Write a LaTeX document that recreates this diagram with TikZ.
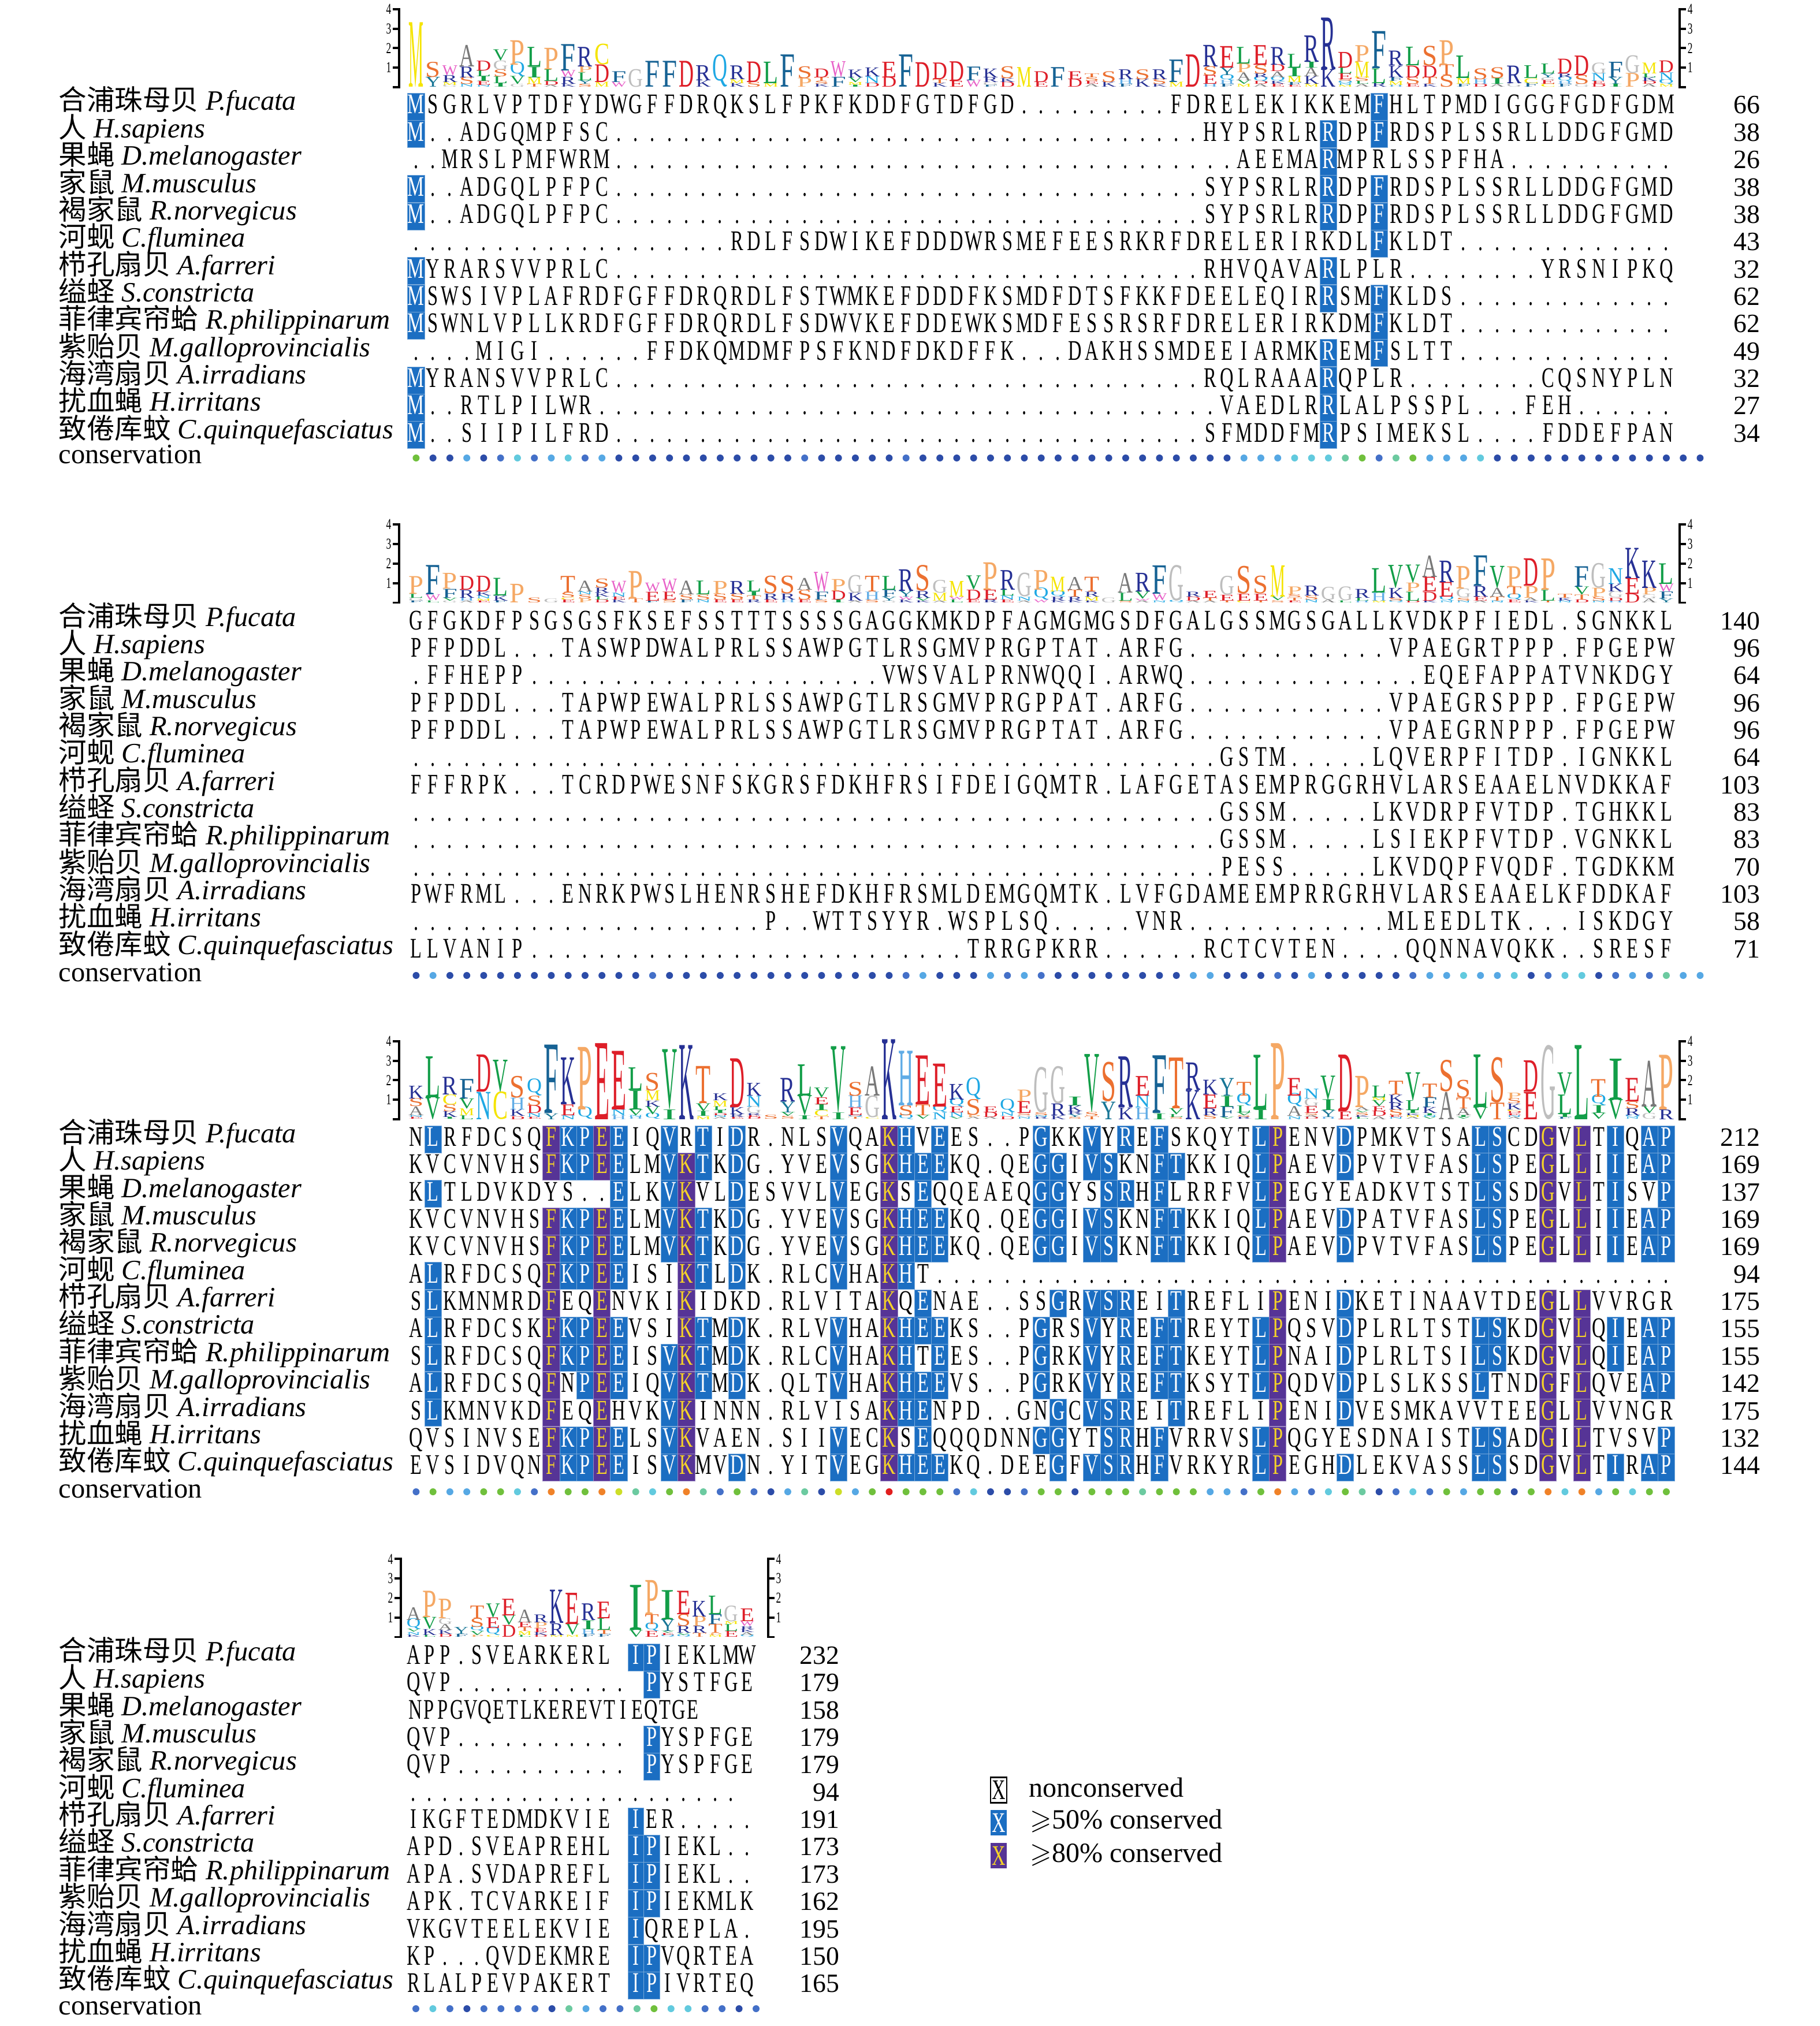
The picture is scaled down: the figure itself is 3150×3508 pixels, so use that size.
\documentclass[tikz,border=0pt]{standalone}
\usepackage{amssymb}
\usepackage{fontspec}
\usepackage{graphicx}
\setmainfont{Liberation Serif}
\newfontfamily\cjk{Noto Sans CJK SC}
\newfontfamily\seqfont[FakeStretch=0.66]{Liberation Serif}

\definecolor{hlblue}{RGB}{27,110,194}
\definecolor{hlpurple}{RGB}{86,52,150}
\definecolor{hlyellow}{RGB}{245,210,40}
% logo letter colours
\definecolor{lgA}{RGB}{120,120,120}
\definecolor{lgG}{RGB}{190,190,190}
\definecolor{lgM}{RGB}{245,228,0}
\definecolor{lgC}{RGB}{245,228,0}
\definecolor{lgS}{RGB}{236,112,48}
\definecolor{lgT}{RGB}{236,112,48}
\definecolor{lgP}{RGB}{245,168,100}
\definecolor{lgD}{RGB}{222,30,40}
\definecolor{lgE}{RGB}{222,30,40}
\definecolor{lgR}{RGB}{38,48,148}
\definecolor{lgK}{RGB}{38,48,148}
\definecolor{lgH}{RGB}{96,172,230}
\definecolor{lgF}{RGB}{22,98,148}
\definecolor{lgY}{RGB}{24,118,150}
\definecolor{lgW}{RGB}{232,96,200}
\definecolor{lgL}{RGB}{18,158,72}
\definecolor{lgI}{RGB}{18,158,72}
\definecolor{lgV}{RGB}{18,158,72}
\definecolor{lgN}{RGB}{30,168,228}
\definecolor{lgQ}{RGB}{30,168,228}
% conservation dots
\definecolor{csd}{RGB}{44,76,168}
\definecolor{csm}{RGB}{68,112,200}
\definecolor{csl}{RGB}{86,168,228}
\definecolor{csc}{RGB}{98,202,222}
\definecolor{cst}{RGB}{108,202,160}
\definecolor{csg}{RGB}{112,192,60}
\definecolor{csy}{RGB}{205,222,40}
\definecolor{cso}{RGB}{240,130,40}
\definecolor{csr}{RGB}{225,30,30}

\tikzset{
  seqch/.style={anchor=base, inner sep=0pt, font=\seqfont\fontsize{14pt}{14pt}\selectfont},
  cellb/.style={fill=hlblue, draw=hlblue!60!white, line width=0.2pt},
  cellp/.style={fill=hlpurple, draw=hlpurple!60!white, line width=0.2pt},
  spname/.style={anchor=base west, inner sep=0pt, font=\fontsize{13.8pt}{14pt}\selectfont},
  rownum/.style={anchor=base east, inner sep=0pt, font=\fontsize{13pt}{14pt}\selectfont},
  axline/.style={line width=1.1pt, line cap=rect},
  axlab/.style={inner sep=0pt, font=\seqfont\fontsize{7.5pt}{8pt}\selectfont},
  lgl/.style={anchor=south, inner sep=0pt, outer sep=0pt},
  legbox/.style={minimum width=2.8mm, minimum height=4.4mm, inner sep=0pt,
    font=\seqfont\fontsize{14pt}{14pt}\selectfont},
  legtext/.style={anchor=base west, inner sep=0pt, font=\fontsize{13.7pt}{14pt}\selectfont}
}

\newcount\sqcol
\newcount\rowcnt
% n gap dots
\def\dn#1{\ifnum#1>0 .\expandafter\dn\expandafter{\the\numexpr#1-1\relax}\fi}
% column mask: upper case = >=50%, lower case = >=80%, dot = none
\newcommand\setmask[1]{\edef\maskstr{#1}\global\sqcol=0 \expandafter\setmaskloop\maskstr\relax}
\def\setmaskloop#1{\ifx#1\relax\else
  \global\advance\sqcol by 1
  \expandafter\xdef\csname mkc\the\sqcol\endcsname{\number`#1}%
  \expandafter\setmaskloop\fi}
\def\alncell#1{%
  \pgfmathsetmacro\cx{\blkx+(\the\sqcol-0.5)*\blkp}%
  \ifnum`#1=46 \node[seqch] at (\cx,\rowy+12) {.};%
  \else\ifnum`#1=45 \else
    \edef\mkc{\csname mkc\the\sqcol\endcsname}%
    \ifnum\mkc=`#1 \fill[cellb] (\cx-\blkp/2,\rowy-23.5) rectangle (\cx+\blkp/2,\rowy+23.5);%
      \node[seqch,text=white] at (\cx,\rowy+12) {#1};%
    \else\ifnum\numexpr\mkc-32\relax=`#1 \fill[cellp] (\cx-\blkp/2,\rowy-23.5) rectangle (\cx+\blkp/2,\rowy+23.5);%
      \node[seqch,text=hlyellow] at (\cx,\rowy+12) {#1};%
    \else\node[seqch] at (\cx,\rowy+12) {#1};%
    \fi\fi
  \fi\fi}
\def\alnloop#1{\ifx#1\relax\else\global\advance\sqcol by 1 \alncell#1\expandafter\alnloop\fi}
\newcommand\alnrow[2]{\def\rowy{#1}\edef\alnstr{#2}\global\sqcol=0 \expandafter\alnloop\alnstr\relax}
\newcommand\startrows[1]{\gdef\rowbase{#1}\global\rowcnt=0 }
\newcommand\nextrow[1]{%
  \pgfmathsetmacro\ry{\rowbase+\the\rowcnt*47.35}%
  \alnrow{\ry}{#1}\global\advance\rowcnt by 1 }
% conservation dots
\newcommand\consdots[4]{\def\cdx{#1}\def\cdp{#2}\def\cdy{#3}\global\sqcol=0 \cdloop#4\relax}
\def\cdloop#1{\ifx#1\relax\else\global\advance\sqcol by 1 \fill[cs#1] (\cdx+\the\sqcol*\cdp-\cdp,\cdy) circle (0.6mm);\expandafter\cdloop\fi}
% sequence logo
\newcommand\logocol[3]{%
  \gdef\lgy{#2}%
  \foreach \lt/\lh in #3{%
    \pgfmathsetlengthmacro\lgh{\lh*3.38mm}%
    \node[lgl,text=lg\lt] at (#1,\lgy) {\resizebox{\lgw}{\lgh}{\lt}};%
    \pgfmathsetmacro\lgyn{\lgy-\lh*33.8}%
    \global\let\lgy\lgyn}}
\newcommand\logoblock[4]{%
  \foreach \st [count=\k] in {#4}{%
    \ifx\st\empty\else
      \pgfmathsetmacro\lgx{#1+(\k-1)*#2}%
      \logocol{\lgx}{#3}{\st}%
    \fi}}
\newcommand\logoaxes[3]{%
  \draw[axline] (#1,#3) -- (#1,#3-135.2);
  \draw[axline] (#2,#3) -- (#2,#3-135.2);
  \foreach \b in {0,...,4}{%
    \draw[axline] (#1,#3-\b*33.8) -- ++(-9,0);
    \draw[axline] (#2,#3-\b*33.8) -- ++(9,0);}
  \foreach \b in {1,...,4}{%
    \node[axlab,anchor=east] at (#1-13,#3-\b*33.8) {\b};
    \node[axlab,anchor=west] at (#2+13,#3-\b*33.8) {\b};}}
\newcommand\spnamelist{%
  {{\cjk 合浦珠母贝} \textit{P.fucata}},%
  {{\cjk 人} \textit{H.sapiens}},%
  {{\cjk 果蝇} \textit{D.melanogaster}},%
  {{\cjk 家鼠} \textit{M.musculus}},%
  {{\cjk 褐家鼠} \textit{R.norvegicus}},%
  {{\cjk 河蚬} \textit{C.fluminea}},%
  {{\cjk 栉孔扇贝} \textit{A.farreri}},%
  {{\cjk 缢蛏} \textit{S.constricta}},%
  {{\cjk 菲律宾帘蛤} \textit{R.philippinarum}},%
  {{\cjk 紫贻贝} \textit{M.galloprovincialis}},%
  {{\cjk 海湾扇贝} \textit{A.irradians}},%
  {{\cjk 扰血蝇} \textit{H.irritans}},%
  {{\cjk 致倦库蚊} \textit{C.quinquefasciatus}}}
% #1 block, #2 first row centre, #3 dots row
\newcommand\spnames[3]{%
  \foreach \nm [count=\i] in \spnamelist{%
    \node[spname] (b#1n\i) at (101,#2+6+\i*47.35-47.35) {\nm};}
  \node[spname] (b#1c) at (101,#3+10) {conservation};}
\newcommand\rownums[4]{%
  \foreach \v [count=\i] in {#4}{%
    \node[rownum] (b#1v\i) at (#3,#2+12+\i*47.35-47.35) {\v};}}

\begin{document}
\begin{tikzpicture}[x=0.1mm,y=-0.1mm]
\useasboundingbox (0,0) rectangle (3150,3508);
\fill[white] (0,0) rectangle (3150,3508);

% ---------------- block 1 ----------------
\def\lgw{2.6mm}
\logoaxes{691}{2908}{151}
\logoblock{720.4}{29.25}{151}{{M/3.3},{Y/.5,S/.77},{G/.1,M/.15,R/.35,W/.5},{N/.15,S/.35,R/.55,A/1.1},
  {N/.1,E/.2,I/.25,L/.3,D/.5},{I/.2,L/.35,S/.35,G/.45,V/.55},{G/.15,V/.4,Q/.6,P/1.25},{T/.15,M/.35,I/.55,L/1.0},
  {A/.1,D/.2,L/.6,P/1.1},{K/.15,R/.35,W/.35,F/1.35},{S/.15,Y/.2,L/.4,P/.3,R/1.0},{M/.25,D/.9,C/1.05},
  {W/.25,F/.55},{G/.9},{F/1.32},{F/1.32},{D/1.32},{K/.35,R/.77},{Q/1.33},{K/.2,M/.2,R/.7},
  {S/.25,D/1.05},{M/.2,L/1.1},{F/1.65},{P/.45,S/.6},{K/.15,S/.15,T/.2,D/.45},{F/.5,W/.8},
  {I/.1,M/.15,V/.25,K/.4},{D/.2,N/.35,K/.45},{D/.5,E/.8},{F/1.65},{D/1.25},{K/.2,T/.2,D/.85},
  {E/.3,D/1.0},{W/.35,F/.7},{F/.1,G/.15,R/.25,K/.45},{D/.25,K/.2,S/.6},{M/1.0},{E/.25,D/.55},
  {F/1.0},{D/.4,E/.4},{A/.15,E/.15,S/.2,T/.2},{K/.25,S/.55},{F/.15,H/.25,R/.5},{K/.4,S/.5},
  {K/.15,S/.25,R/.5},{M/.25,F/1.15},{D/1.65},{H/.15,E/.45,S/.45,R/1.1},{F/.15,H/.2,Q/.25,Y/.4,E/1.1},
  {M/.15,V/.2,A/.4,P/.45,L/.85},{A/.15,D/.15,Q/.2,R/.2,S/.45,E/1.0},{E/.15,K/.15,Q/.2,A/.3,D/.35,R/.9},
  {E/.1,F/.15,M/.3,I/.45,L/.7},{M/.15,K/.4,A/.45,I/.3,R/1.35},{K/.9,R/2.65},
  {M/.1,N/.1,Q/.1,S/.1,E/.3,L/.3,D/.8},{A/.15,L/.15,S/.2,M/.8,P/.85},{R/.2,L/.75,F/1.9},
  {H/.1,M/.2,F/.2,K/.6,R/.75},{E/.15,S/.35,D/.6,L/.95},{K/.15,T/.35,D/.6,S/1.0},{S/.6,T/.55,P/1.25},
  {F/.15,M/.3,L/1.15},{D/.15,H/.25,S/.55},{A/.15,I/.3,S/.55},{G/.2,R/.9},{F/.2,C/.25,L/.65},
  {C/.15,E/.2,G/.15,Y/.2,L/.5},{F/.15,H/.15,Q/.2,R/.2,D/.75},{G/.15,S/.45,D/1.0},{D/.15,E/.15,N/.4,G/.55},
  {I/.15,Y/.35,F/.8},{P/.7,G/.9},{A/.15,D/.15,K/.2,L/.2,M/.55},{M/.15,Q/.2,N/.4,D/.6}}
\def\blkx{705.8}\def\blkp{29.25}
\setmask{M\dn{53}R..F\dn{17}}
\startrows{185}
\nextrow{MSGRLVPTDFYDWGFFDRQKSLFPKFKDDFGTDFGD\dn{9}FDRELEKIKKEMFHLTPMDIGGGFGDFGDM}
\nextrow{M..ADGQMPFSC\dn{35}HYPSRLRRDPFRDSPLSSRLLDDGFGMD}
\nextrow{..MRSLPMFWRM\dn{37}AEEMARMPRLSSPFHA\dn{10}}
\nextrow{M..ADGQLPFPC\dn{35}SYPSRLRRDPFRDSPLSSRLLDDGFGMD}
\nextrow{M..ADGQLPFPC\dn{35}SYPSRLRRDPFRDSPLSSRLLDDGFGMD}
\nextrow{\dn{19}RDLFSDWIKEFDDDWRSMEFEESRKRFDRELERIRKDLFKLDT\dn{13}}
\nextrow{MYRARSVVPRLC\dn{35}RHVQAVARLPLR\dn{8}YRSNIPKQ}
\nextrow{MSWSIVPLAFRDFGFFDRQRDLFSTWMKEFDDDFKSMDFDTSFKKFDEELEQIRRSMFKLDS\dn{13}}
\nextrow{MSWNLVPLLKRDFGFFDRQRDLFSDWVKEFDDEWKSMDFESSRSRFDRELERIRKDMFKLDT\dn{13}}
\nextrow{....MIGI......FFDKQMDMFPSFKNDFDKDFFK...DAKHSSMDEEIARMKREMFSLTT\dn{13}}
\nextrow{MYRANSVVPRLC\dn{35}RQLRAAARQPLR\dn{8}CQSNYPLN}
\nextrow{M..RTLPILWR\dn{37}VAEDLRRLALPSSPL...FEH......}
\nextrow{M..SIIPILFRD\dn{35}SFMDDFMRPSIMEKSL....FDDEFPAN}
\consdots{720.4}{29.25}{793}{gddldmcmlcmldddddddddddmdddddmdddddddddddddddddddlllccctgmtglllcddddddddddddd}
\spnames{1}{185}{793}
\rownums{1}{185}{3048}{66,38,26,38,38,43,32,62,62,49,32,27,34}

% ---------------- block 2 ----------------
\logoaxes{691}{2908}{1043.5}
\logoblock{720.4}{29.25}{1043.5}{{F/.1,G/.15,L/.2,P/.9},{L/.1,W/.3,F/1.5},{G/.1,V/.15,F/.45,P/.8},
  {A/.1,H/.15,R/.4,D/.7},{E/.1,M/.1,N/.15,K/.2,D/.8},{F/.1,K/.25,L/.9},{P/.95},{S/.25},{G/.2},
  {E/.15,C/.1,S/.25,T/.85},{P/.2,S/.2,N/.15,A/.55},{D/.15,L/.15,K/.2,R/.25,S/.45},{K/.15,E/.15,N/.2,W/.6},
  {T/.2,P/1.4},{F/.1,E/.45,W/.45},{S/.15,E/.4,W/.65},{F/.15,S/.25,A/.7},{N/.15,S/.25,L/.7},
  {E/.15,S/.3,P/.65},{E/.15,S/.3,R/.65},{R/.15,T/.2,I/.2,L/.55},{E/.15,R/.3,S/.9},{H/.15,R/.3,S/.9},
  {E/.15,S/.5,A/.6},{S/.15,F/.4,W/1.0},{I/.15,D/.45,P/.6},{A/.1,K/.4,G/.9},{S/.15,H/.4,T/.8},
  {G/.1,Y/.2,F/.35,L/.7},{K/.15,W/.15,Y/.3,R/1.1},{K/.1,V/.15,R/.35,S/1.3},{A/.1,M/.4,G/.65},
  {L/.15,W/.15,M/.8},{E/.15,D/.5,V/.7},{R/.15,E/.5,P/1.4},{E/.15,N/.2,L/.3,R/1.0},{A/.1,N/.2,G/1.2},
  {W/.15,Q/.5,P/1.0},{K/.1,R/.2,Q/.25,M/.75},{K/.1,R/.2,T/.35,A/.65},{K/.1,M/.2,R/.25,T/.75},{G/.25},
  {S/.1,L/.4,A/1.0},{A/.1,W/.1,V/.35,R/.95},{N/.1,W/.35,F/1.45},{Q/.1,G/1.8},{A/.1,D/.2,R/.25},
  {A/.1,T/.15,E/.35},{T/.1,E/.3,G/.95},{C/.1,E/.35,S/1.4},{T/.1,E/.35,S/.9},{S/.1,V/.2,M/1.6},
  {E/.1,T/.15,S/.15,P/.4},{N/.15,S/.2,R/.5},{A/.15,G/.65},{L/.1,G/.7},{H/.1,L/.15,R/.45},
  {M/.1,H/.4,L/1.25},{Q/.1,S/.15,K/.5,V/1.15},{D/.1,L/.45,P/.45,V/.9},{K/.1,D/.45,E/.75,A/1.1},
  {N/.1,Q/.2,E/.75,R/1.1},{N/.1,S/.15,G/.45,P/1.15},{A/.1,E/.2,R/.55,F/1.55},{N/.1,T/.2,A/.45,V/1.1},
  {E/.15,Q/.25,T/.4,P/1.05},{K/.1,A/.15,P/.6,D/1.4},{T/.1,L/.55,P/1.6},{N/.1,K/.15,T/.2},
  {D/.15,T/.25,V/.4,F/1.05},{N/.1,S/.2,P/.45,G/1.25},{H/.1,D/.15,G/.3,K/.4,N/.8},{D/.45,E/.8,K/1.55},
  {A/.2,G/.2,P/.35,K/1.4},{Y/.2,F/.35,W/.4,L/1.05}}
\setmask{\dn{75}}
\startrows{1078}
\nextrow{GFGKDFPSGSGSFKSEFSSTTTSSSSGAGGKMKDPFAGMGMGSDFGALGSSMGSGALLKVDKPFIEDL.SGNKKL}
\nextrow{PFPDDL...TASWPDWALPRLSSAWPGTLRSGMVPRGPTAT.ARFG\dn{12}VPAEGRTPPP.FPGEPW}
\nextrow{.FFHEPP\dn{21}VWSVALPRNWQQI.ARWQ\dn{14}EQEFAPPATVNKDGY}
\nextrow{PFPDDL...TAPWPEWALPRLSSAWPGTLRSGMVPRGPPAT.ARFG\dn{12}VPAEGRSPPP.FPGEPW}
\nextrow{PFPDDL...TAPWPEWALPRLSSAWPGTLRSGMVPRGPTAT.ARFG\dn{12}VPAEGRNPPP.FPGEPW}
\nextrow{\dn{48}GSTM.....LQVERPFITDP.IGNKKL}
\nextrow{FFFRPK...TCRDPWESNFSKGRSFDKHFRSIFDEIGQMTR.LAFGETASEMPRGGRHVLARSEAAELNVDKKAF}
\nextrow{\dn{48}GSSM.....LKVDRPFVTDP.TGHKKL}
\nextrow{\dn{48}GSSM.....LSIEKPFVTDP.VGNKKL}
\nextrow{\dn{48}PESS.....LKVDQPFVQDF.TGDKKM}
\nextrow{PWFRML...ENRKPWSLHENRSHEFDKHFRSMLDEMGQMTK.LVFGDAMEEMPRRGRHVLARSEAAELKFDDKAF}
\nextrow{\dn{21}P..WTTSYYR.WSPLSQ.....VNR\dn{12}MLEEDLTK...ISKDGY}
\nextrow{LLVANIP\dn{26}TRRGPKRR......RCTCVTEN....QQNNAVQKK..SRESF}
\consdots{720.4}{29.25}{1689}{dlddddddddddddmddddddddddddddmldddlmlmddddddddlldddmdldddddmllcllcdmccdmlmtll}
\spnames{2}{1078}{1689}
\rownums{2}{1078}{3048}{140,96,64,96,96,64,103,83,83,70,103,58,71}

% ---------------- block 3 ----------------
\logoaxes{691}{2908}{1938}
\logoblock{720.4}{29.25}{1938}{{E/.1,N/.1,A/.45,S/.4,K/.65},{V/1.1,L/2.1},{I/.1,K/.3,S/.35,C/.5,R/.9},
  {L/.2,M/.35,V/.5,F/1.0},{N/1.4,D/1.9},{C/1.4,V/1.6},{D/.15,K/.35,H/.6,S/1.1},{E/.1,N/.2,D/.4,S/.5,Q/.7},
  {Y/.3,F/3.5},{N/.2,E/.55,K/2.4},{Q/.5,P/3.2},{E/3.9},{H/.2,N/.3,E/3.0},{H/.1,N/.1,V/.3,I/1.0,L/1.15},
  {Q/.25,V/.4,K/.3,M/.5,S/.9},{I/.5,V/3.0},{K/3.8},{M/.15,I/.25,V/.4,T/1.9},
  {A/.1,N/.1,D/.1,I/.15,L/.2,M/.3,K/.35},{E/.1,R/.15,K/.35,D/2.5},{D/.1,E/.1,R/.1,G/.35,N/.55,K/.65},
  {S/.2},{S/.15,V/.2,Y/.55,R/1.2},{I/.2,V/1.0,L/1.6},{T/.15,C/.3,I/.3,E/.35,V/.5},{I/.35,V/3.3},
  {T/.1,Q/.1,E/.4,H/.6,S/.7},{C/.1,G/1.1,A/1.5},{K/4.1},{Q/.2,S/.5,H/2.8},{V/.2,T/.55,E/2.5},
  {N/.35,Q/.3,E/2.2},{V/.1,N/.25,E/.3,Q/.35,K/.8},{A/.1,P/.1,S/.8,Q/.9},{A/.1,D/.25,E/.3},
  {D/.15,N/.2,Q/.55},{N/.1,G/.1,S/.1,E/.6,P/.6},{R/.1,N/.1,S/.15,G/2.3},{K/.2,R/.6,G/1.9},
  {S/.1,Y/.15,R/.15,K/.3,I/.45},{T/.15,S/.2,V/2.9},{Y/.9,S/2.0},{K/.6,R/2.6},{H/.6,N/.6,E/1.0},
  {I/.3,F/2.95},{S/.1,L/.15,V/.3,T/2.6},{K/1.5,R/1.4},{S/.2,R/.35,E/.7,K/.75},{V/.1,F/.55,I/.55,Y/.9},
  {R/.1,S/.1,V/.15,L/.35,Q/.5,T/.7},{I/.5,L/2.8},{P/3.9},{N/.15,A/.5,Q/.55,E/.9},
  {D/.1,A/.1,S/.1,E/.35,G/.4,N/.5},{H/.1,Y/.35,I/.55,V/1.2},{E/.4,D/2.9},
  {L/.1,K/.1,S/.15,V/.1,A/.15,P/1.6},{A/.15,D/.25,E/.25,V/.3,M/.15,L/.6},{N/.1,E/.1,S/.3,R/.35,K/.4,T/.7},
  {A/.1,M/.1,K/.1,I/.15,L/.5,V/1.4},{V/.1,N/.1,I/.1,K/.3,F/.5,T/.7},{A/1.4,S/1.6},
  {V/.1,I/.1,A/.35,T/.55,S/.9},{V/.6,L/2.7},{T/.85,S/2.3},{A/.1,N/.1,E/.1,D/.1,C/.1,K/.3,S/.25,P/.3},
  {E/1.4,D/1.6},{G/3.75},{F/.1,I/.15,L/1.0,V/1.1},{L/3.8},{V/.3,I/.4,Q/.45,T/.9},{V/1.0,I/2.1},
  {N/.1,Q/.1,R/.35,S/.35,E/1.2},{G/.3,V/.35,A/2.35},{R/.5,P/2.8}}
\setmask{.L\dn{6}fKPeE..VkT.D\dn{5}V..kHEE\dn{5}GG.VSR.FT\dn{4}Lp...D\dn{7}LS..g.l.I.AP}
\startrows{1972.5}
\nextrow{NLRFDCSQFKPEEIQVRTIDR.NLSVQAKHVEES..PGKKVYREFSKQYTLPENVDPMKVTSALSCDGVLTIQAP}
\nextrow{KVCVNVHSFKPEELMVKTKDG.YVEVSGKHEEKQ.QEGGIVSKNFTKKIQLPAEVDPVTVFASLSPEGLLIIEAP}
\nextrow{KLTLDVKDYS..ELKVKVLDESVVLVEGKSEQQEAEQGGYSSRHFLRRFVLPEGYEADKVTSTLSSDGVLTISVP}
\nextrow{KVCVNVHSFKPEELMVKTKDG.YVEVSGKHEEKQ.QEGGIVSKNFTKKIQLPAEVDPATVFASLSPEGLLIIEAP}
\nextrow{KVCVNVHSFKPEELMVKTKDG.YVEVSGKHEEKQ.QEGGIVSKNFTKKIQLPAEVDPVTVFASLSPEGLLIIEAP}
\nextrow{ALRFDCSQFKPEEISIKTLDK.RLCVHAKHT\dn{44}}
\nextrow{SLKMNMRDFEQENVKIKIDKD.RLVITAKQENAE..SSGRVSREITREFLIPENIDKETINAAVTDEGLLVVRGR}
\nextrow{ALRFDCSKFKPEEVSIKTMDK.RLVVHAKHEEKS..PGRSVYREFTREYTLPQSVDPLRLTSTLSKDGVLQIEAP}
\nextrow{SLRFDCSQFKPEEISVKTMDK.RLCVHAKHTEES..PGRKVYREFTKEYTLPNAIDPLRLTSILSKDGVLQIEAP}
\nextrow{ALRFDCSQFNPEEIQVKTMDK.QLTVHAKHEEVS..PGRKVYREFTKSYTLPQDVDPLSLKSSLTNDGFLQVEAP}
\nextrow{SLKMNVKDFEQEHVKVKINNN.RLVISAKHENPD..GNGCVSREITREFLIPENIDVESMKAVVTEEGLLVVNGR}
\nextrow{QVSINVSEFKPEELSVKVAEN.SIIVECKSEQQQDNNGGYTSRHFVRRVSLPQGYESDNAISTLSADGILTVSVP}
\nextrow{EVSIDVQNFKPEEISVKMVDN.YITVEGKHEEKQ.DEEGFVSRHFVRKYRLPEGHDLEKVASSLSSDGVLTIRAP}
\consdots{720.4}{29.25}{2583}{mgllggcmoggoytcgotmgmdltdylgrgggmcddmggdgggtgggllmgolmcgtdmcmglggdgocolgcgg}
\spnames{3}{1972.5}{2583}
\rownums{3}{1972.5}{3048}{212,169,137,169,169,94,175,155,155,142,175,132,144}

% ---------------- block 4 ----------------
\def\lgw{2.45mm}
\logoaxes{694}{1330}{2834.5}
\logoblock{716}{27.5}{2834.5}{{K/.1,N/.15,V/.15,Q/.45,A/.65},{L/.1,K/.3,V/.6,P/1.35},{D/.15,K/.2,A/.3,G/.3,P/1.0},
  {F/.15,Y/.35},{P/.1,V/.2,Q/.2,S/.45,T/.65},{C/.1,Q/.35,E/.55,V/.7},{D/.6,V/.5,E/.85},
  {L/.1,M/.2,T/.2,E/.25,A/.65},{D/.1,K/.15,E/.2,P/.3,R/.4},{M/.1,R/.6,K/1.7},{M/.1,V/.55,E/1.6},
  {F/.15,H/.25,I/.45,R/.85},{F/.15,T/.2,L/.6,E/.85},{},{V/.35,I/2.3},{E/.3,Q/.35,T/.5,P/1.75},
  {Q/.1,E/.1,V/.1,Y/.6,I/1.5},{Q/.1,V/.1,R/.35,S/.6,E/1.2},{T/.2,R/.35,P/.5,K/.8},
  {M/.1,P/.1,T/.45,F/.5,L/.95},{E/.3,L/.35,M/.15,G/.8},{Q/.1,A/.15,K/.15,R/.15,W/.25,E/.65}}
\def\blkx{702.25}\def\blkp{27.5}
\setmask{\dn{14}IP\dn{6}}
\startrows{2869.5}
\nextrow{APP.SVEARKERL-IPIEKLMW}
\nextrow{QVP\dn{11}-PYSTFGE}
\nextrow{}
\nextrow{QVP\dn{11}-PYSPFGE}
\nextrow{QVP\dn{11}-PYSPFGE}
\nextrow{\dn{21}}
\nextrow{IKGFTEDMDKVIE-IER.....}
\nextrow{APD.SVEAPREHL-IPIEKL..}
\nextrow{APA.SVDAPREFL-IPIEKL..}
\nextrow{APK.TCVARKEIF-IPIEKMLK}
\nextrow{VKGVTEELEKVIE-IQREPLA.}
\nextrow{KP...QVDEKMRE-IPVQRTEA}
\nextrow{RLALPEVPAKERT-IPIVRTEQ}
\def\blkx{707}\def\blkp{24}
\setmask{\dn{21}}
\alnrow{2964.2}{NPPGVQETLKEREVTIEQTGE}
\consdots{720}{29.45}{3478}{mcmdmmmmdtlmmtgccmmdm}
\spnames{4}{2869.5}{3478}
\rownums{4}{2869.5}{1454}{232,179,158,179,179,94,191,173,173,162,195,150,165}

% key
\node[legbox,draw=black,line width=0.7pt,fill=white] (key0) at (1729,3099.5) {X};
\node[legbox,fill=hlblue,text=white] (key1) at (1729,3156) {X};
\node[legbox,fill=hlpurple,text=hlyellow] (key2) at (1729,3213) {X};
\node[legtext] (keyt0) at (1781,3111) {nonconserved};
\node[legtext] (keyt1) at (1783,3166) {$\geqslant$50\% conserved};
\node[legtext] (keyt2) at (1783,3224) {$\geqslant$80\% conserved};
\end{tikzpicture}
\end{document}
